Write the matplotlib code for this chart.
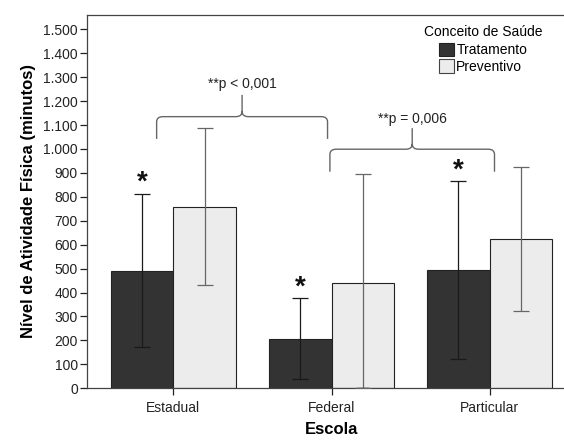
import numpy as np
import matplotlib.pyplot as plt
from matplotlib.path import Path
from matplotlib.patches import PathPatch, Patch

plt.rcParams['font.family'] = ['Liberation Sans', 'DejaVu Sans']

escolas = ['Estadual', 'Federal', 'Particular']
tratamento = [492, 208, 495]
tratamento_dp = [321, 170, 371]
preventivo = [758, 439, 623]
preventivo_dp = [328, 458, 301]
yticks = list(range(0, 1501, 100))
ytick_labels = ['0', '100', '200', '300', '400', '500', '600', '700', '800', '900',
                '1.000', '1.100', '1.200', '1.300', '1.400', '1.500']

dark = '#333333'
light = '#ececec'


def brace(ax, x0, x1, y, yend, ypeak, dx=0.04, dy=22):
    xm = (x0 + x1) / 2
    verts = [(x0, yend), (x0, y - dy), (x0, y), (x0 + dx, y),
             (xm - dx, y), (xm, y), (xm, y + dy), (xm, ypeak),
             (xm, y + dy), (xm, y), (xm + dx, y),
             (x1 - dx, y), (x1, y), (x1, y - dy), (x1, yend)]
    codes = [Path.MOVETO, Path.LINETO, Path.CURVE3, Path.CURVE3,
             Path.LINETO, Path.CURVE3, Path.CURVE3, Path.LINETO,
             Path.MOVETO, Path.CURVE3, Path.CURVE3,
             Path.LINETO, Path.CURVE3, Path.CURVE3, Path.LINETO]
    ax.add_patch(PathPatch(Path(verts, codes), fill=False, edgecolor='#666666', lw=1.0))


fig = plt.figure(figsize=(5.64, 4.40), dpi=100)
ax = fig.add_axes([87 / 564, 51.7 / 440, 489 / 564, 373.6 / 440])

x = np.arange(len(escolas))
w = 0.396
ax.bar(x - w / 2, tratamento, w, color=dark, edgecolor='#222222', lw=0.8, zorder=2)
ax.bar(x + w / 2, preventivo, w, color=light, edgecolor='#222222', lw=0.8, zorder=2)

# error bars (lower whisker clipped at zero)
t_low = np.minimum(tratamento_dp, tratamento)
p_low = np.minimum(preventivo_dp, preventivo)
ax.errorbar(x - w / 2, tratamento, yerr=[t_low, tratamento_dp], fmt='none',
            ecolor='#1a1a1a', elinewidth=0.9, capsize=6, capthick=0.9, zorder=3)
ax.errorbar(x + w / 2, preventivo, yerr=[p_low, preventivo_dp], fmt='none',
            ecolor='#666666', elinewidth=0.9, capsize=6, capthick=0.9, zorder=3)
# no bottom cap where the whisker hits zero
for i, (m, s) in enumerate(zip(preventivo, preventivo_dp)):
    if s >= m:
        ax.plot([x[i] + w / 2 - 0.035, x[i] + w / 2 + 0.035], [0, 0], color='#222222', lw=1.0, zorder=4)

# significance marks
for i in range(len(escolas)):
    ax.text(x[i] - w / 2, tratamento[i] + tratamento_dp[i] - 10, '*', ha='center', va='bottom',
            fontsize=20, fontweight='bold', color='#111111')

brace(ax, -0.105, 0.975, 1135, 1042, 1226)
ax.text(0.435, 1272, '**p < 0,001', ha='center', va='center', fontsize=10, color='#222222')
brace(ax, 0.99, 2.03, 999, 905, 1087)
ax.text(1.51, 1125, '**p = 0,006', ha='center', va='center', fontsize=10, color='#222222')

ax.set_xlim(-0.545, 2.545)
ax.set_ylim(0, 1561)
ax.set_yticks(yticks)
ax.set_yticklabels(ytick_labels)
ax.set_xticks(x)
ax.set_xticklabels(escolas)
ax.tick_params(axis='both', labelsize=10, colors='#222222', length=5, width=0.9, pad=1.5)
ax.tick_params(axis='x', pad=4)
for s in ax.spines.values():
    s.set_color('#444444')
    s.set_linewidth(0.9)

ax.set_ylabel('Nível de Atividade Física (minutos)', fontsize=12, fontweight='bold', labelpad=5)
ax.set_xlabel('Escola', fontsize=12, fontweight='bold', labelpad=5)

handles = [Patch(facecolor=dark, edgecolor='#222222', lw=0.8),
           Patch(facecolor=light, edgecolor='#444444', lw=0.8)]
leg = ax.legend(handles, ['Tratamento', 'Preventivo'], title='Conceito de Saúde',
                loc='upper right', bbox_to_anchor=(552 / 564, 1 - 15 / 440),
                bbox_transform=fig.transFigure, frameon=False, fontsize=10, title_fontsize=10,
                handlelength=1.1, handleheight=1.1, handletextpad=0.15, labelspacing=0.15,
                borderpad=0.2)
leg._legend_box.align = 'center'
leg._legend_box.sep = 3

fig.savefig('out.png', dpi=100)
